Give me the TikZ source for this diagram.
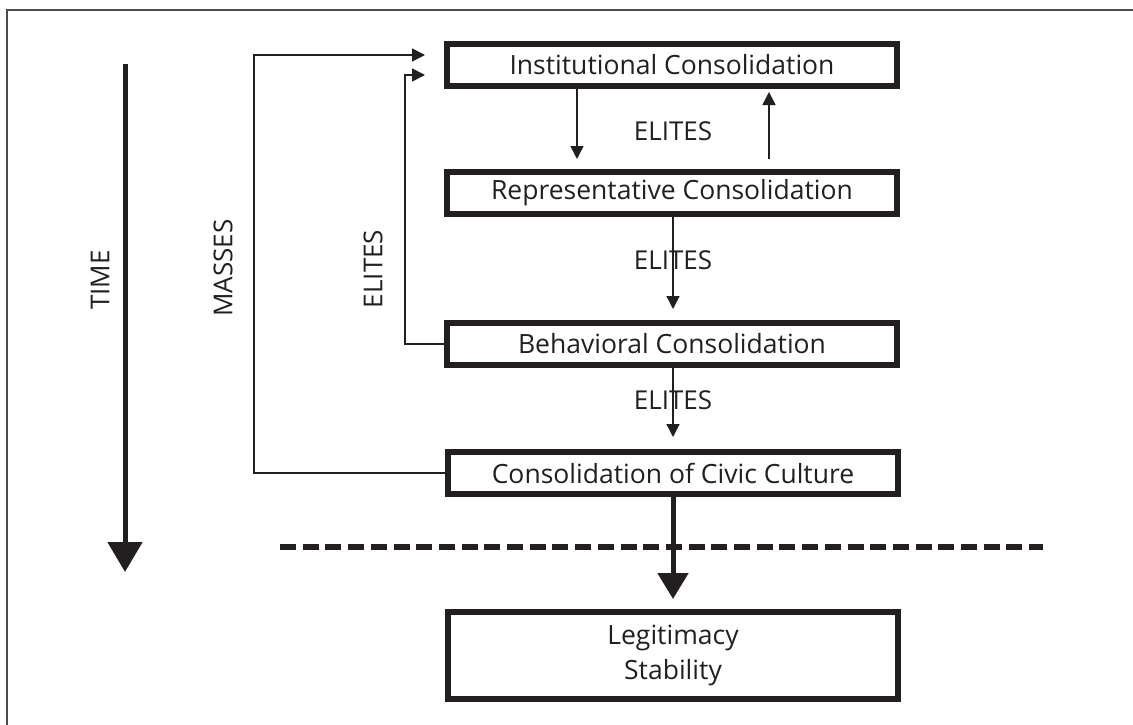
\documentclass[tikz,border=0pt]{standalone}
\usepackage{fontspec}
\setmainfont{Open Sans}
\usetikzlibrary{arrows.meta}
\definecolor{ink}{HTML}{231F20}
\begin{document}
\begin{tikzpicture}[x=1pt,y=-1pt,
  box/.style={draw=ink, line width=6pt, minimum width=450pt, minimum height=42pt, inner sep=0pt, text=ink, font=\fontsize{26.5}{35}\selectfont},
  lbl/.style={text=ink, inner sep=0pt, font=\fontsize{26}{30}\selectfont},
  thin/.style={draw=ink, line width=1.5pt, -{Triangle[length=13pt,width=13pt]}},
  thick/.style={draw=ink, line width=5pt},
  frame/.style={draw=ink!80, line width=1.5pt}]
\useasboundingbox (0,0) rectangle (1133,725);
\draw[frame] (7,725) -- (7,10) -- (1133,10);
% boxes
\node[box] (inst) at (672,65) {Institutional Consolidation};
\node[box] (repr) at (672,193) {Representative Consolidation};
\node[box] (behav) at (672,344) {Behavioral Consolidation};
\node[box] (civic) at (673,473) {Consolidation of Civic Culture};
\node[box, minimum height=87pt, align=center] (legit) at (673,655.5) {Legitimacy\\Stability};
% labels
\node[lbl] (e1) at (673,131) {ELITES};
\node[lbl] (e2) at (673,260) {ELITES};
\node[lbl] (e3) at (673,400) {ELITES};
\node[lbl, rotate=90] (time) at (100,280) {TIME};
\node[lbl, rotate=90] (masses) at (223,268) {MASSES};
\node[lbl, rotate=90] (e4) at (373,269) {ELITES};
% coordinates
\coordinate (mtip) at (425,55);
\coordinate (etip) at (425,75);
\coordinate (t0) at (125,64);
\coordinate (t1) at (125,572);
\coordinate (d0) at (280,547);
\coordinate (d1) at (1043,547);
% connectors
\draw[thin] (inst.south -| 577,0) -- ([yshift=10pt]repr.north -| 577,0);
\draw[thin] ([yshift=10pt]repr.north -| 769,0) -- ([yshift=-3pt]inst.south -| 769,0);
\draw[thin] (repr.south -| 673,0) -- ([yshift=11pt]behav.north -| 673,0);
\draw[thin] (behav.south -| 673,0) -- ([yshift=12pt]civic.north -| 673,0);
\draw[thin] (civic.west) -| (254,55) -- (mtip);
\draw[thin] (behav.west) -| (405,75) -- (etip);
\draw[thick, -{Triangle[length=26pt,width=30pt]}] (civic.south) -- ([yshift=10pt]legit.north);
\draw[thick, -{Triangle[length=30pt,width=34pt]}] (t0) -- (t1);
\draw[draw=ink, line width=5.5pt, dash pattern=on 16pt off 6.7pt] (d0) -- (d1);
\end{tikzpicture}
\end{document}
